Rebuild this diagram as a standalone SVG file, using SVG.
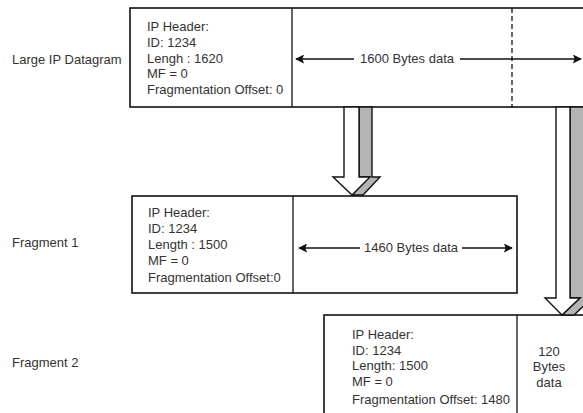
<svg xmlns="http://www.w3.org/2000/svg" width="583" height="413" viewBox="0 0 583 413">
<style>
text{font-family:"Liberation Sans",Arial,sans-serif;font-size:13px;fill:#333}
.box{fill:#fff;stroke:#111;stroke-width:1.6}
.ln{stroke:#111;stroke-width:1.3;fill:none}
.wa{fill:#fff;stroke:#111;stroke-width:1.4;stroke-linejoin:miter}
.ga{fill:#b4b4b4;stroke:#111;stroke-width:1.4}
.mid{text-anchor:middle}
</style>
<defs>
<marker id="ah" viewBox="0 0 10 10" refX="9" refY="5" markerWidth="9" markerHeight="9" markerUnits="userSpaceOnUse" orient="auto-start-reverse">
<path d="M0,0 L10,5 L0,10 L2,5 Z" fill="#111"/>
</marker>
</defs>
<rect width="583" height="413" fill="#fff"/>
<text x="12" y="64">Large IP Datagram</text>
<text x="12" y="247">Fragment 1</text>
<text x="12" y="367">Fragment 2</text>

<g id="datagram">
<rect class="box" x="130" y="8" width="470" height="99"/>
<line class="ln" x1="292" y1="8" x2="292" y2="107"/>
<line class="ln" x1="512" y1="8" x2="512" y2="107" stroke-dasharray="5,3"/>
<text x="147" y="31">IP Header:</text>
<text x="147" y="47">ID: 1234</text>
<text x="147" y="63">Lengh : 1620</text>
<text x="147" y="78">MF = 0</text>
<text x="147" y="94">Fragmentation Offset: 0</text>
<text class="mid" x="407" y="63">1600 Bytes data</text>
</g>

<g id="fragment1">
<rect class="box" x="132" y="196" width="385" height="97"/>
<line class="ln" x1="293" y1="196" x2="293" y2="293"/>
<text x="148" y="217">IP Header:</text>
<text x="148" y="233">ID: 1234</text>
<text x="148" y="249">Length : 1500</text>
<text x="148" y="265">MF = 0</text>
<text x="148" y="282">Fragmentation Offset:0</text>
<text class="mid" x="411" y="252">1460 Bytes data</text>
</g>

<g id="fragment2">
<rect class="box" x="324" y="315" width="280" height="110"/>
<line class="ln" x1="517" y1="315" x2="517" y2="413"/>
<text x="352" y="339">IP Header:</text>
<text x="352" y="355">ID: 1234</text>
<text x="352" y="370">Length: 1500</text>
<text x="352" y="386">MF = 0</text>
<text x="352" y="404">Fragmentation Offset: 1480</text>
<text class="mid" x="549" y="356">120</text>
<text class="mid" x="549" y="371">Bytes</text>
<text class="mid" x="549" y="387">data</text>
</g>

<g id="connectors">
<line class="ln" x1="296" y1="59" x2="354" y2="59" marker-start="url(#ah)"/>
<line class="ln" x1="460" y1="59" x2="581" y2="59" marker-end="url(#ah)"/>
<line class="ln" x1="299" y1="248" x2="360" y2="248" marker-start="url(#ah)"/>
<line class="ln" x1="462" y1="248" x2="512" y2="248" marker-end="url(#ah)"/>

<polygon class="ga" points="359,107 372,107 372,177 380,177 363,195 352,195 369,177 359,177"/>
<polygon class="wa" points="344,107 359,107 359,177 370,177 352,195 333,177 344,177"/>

<polygon class="ga" points="570,107 584,107 584,298 592,298 574,315 562,315 580,298 570,298"/>
<polygon class="wa" points="556,107 570,107 570,298 580,298 562,315 545,298 556,298"/>
</g>
</svg>
